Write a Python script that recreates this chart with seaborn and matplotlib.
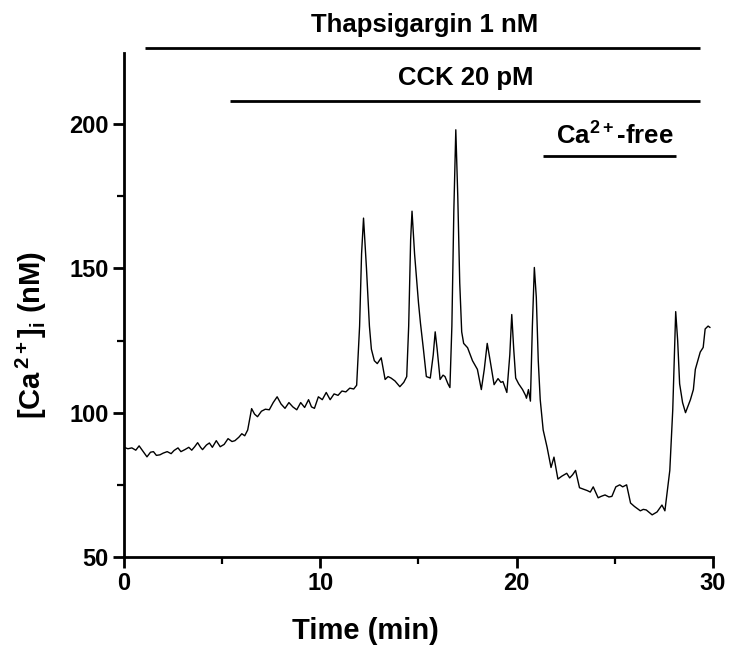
import numpy as np
import pandas as pd
import matplotlib
matplotlib.use("Agg")
import matplotlib.pyplot as plt
import seaborn as sns

# ---- data ----
time_min = [0.0, 0.2, 0.4, 0.6, 0.77, 0.95, 1.17, 1.35, 1.5, 1.65, 1.83, 2.0, 2.2, 2.4, 2.55,
            2.75, 2.9, 3.1, 3.3, 3.45, 3.6, 3.75, 3.9, 4.0, 4.2, 4.35, 4.5, 4.7, 4.9, 5.1, 5.3,
            5.5, 5.65, 5.85, 6.0, 6.15, 6.3, 6.5, 6.65, 6.8, 7.0, 7.2, 7.4, 7.6, 7.8, 8.0, 8.2,
            8.4, 8.6, 8.8, 9.0, 9.2, 9.4, 9.55, 9.7, 9.9, 10.1, 10.3, 10.5, 10.7, 10.9, 11.1,
            11.3, 11.5, 11.7, 11.85, 12.0, 12.1, 12.2, 12.35, 12.5, 12.6, 12.75, 12.9, 13.1,
            13.3, 13.45, 13.6, 13.8, 14.05, 14.25, 14.4, 14.5, 14.6, 14.67, 14.8, 15.0, 15.1,
            15.25, 15.4, 15.6, 15.75, 15.85, 15.95, 16.1, 16.25, 16.35, 16.5, 16.6, 16.7, 16.8,
            16.9, 17.0, 17.1, 17.2, 17.3, 17.5, 17.75, 18.0, 18.2, 18.35, 18.5, 18.65, 18.85,
            19.05, 19.2, 19.3, 19.5, 19.65, 19.75, 19.85, 19.95, 20.1, 20.3, 20.45, 20.5, 20.6,
            20.7, 20.8, 20.9, 21.0, 21.1, 21.2, 21.35, 21.55, 21.75, 21.9, 22.1, 22.3, 22.55,
            22.7, 22.85, 23.0, 23.2, 23.4, 23.6, 23.75, 23.9, 24.15, 24.3, 24.5, 24.7, 24.85,
            25.05, 25.25, 25.4, 25.6, 25.8, 26.0, 26.3, 26.45, 26.6, 26.9, 27.15, 27.4, 27.55,
            27.8, 27.95, 28.1, 28.2, 28.3, 28.45, 28.6, 28.85, 29.0, 29.1, 29.35, 29.5, 29.6,
            29.75, 29.85]
ca_nM = [88.0, 87.5, 87.8, 87.0, 88.5, 86.8, 84.7, 86.3, 86.5, 85.2, 85.4, 86.0, 86.5, 85.8, 86.9,
         87.8, 86.5, 87.2, 88.0, 87.0, 88.2, 89.6, 88.0, 87.2, 88.8, 89.5, 88.0, 90.3, 88.2, 89.0, 91.0,
         90.0, 90.3, 91.5, 92.7, 92.0, 94.0, 101.4, 99.5, 98.6, 100.5, 101.2, 101.0, 103.5, 105.5, 103.0, 101.5,
         103.5, 102.0, 101.0, 103.5, 101.8, 104.5, 102.0, 101.5, 105.5, 104.5, 107.0, 104.5, 106.5, 106.0, 107.5,
         107.2, 108.5, 108.2, 109.5, 130.0, 155.0, 167.4, 150.0, 130.0, 122.0, 118.0, 117.0, 119.0,
         111.5, 112.5, 112.0, 111.0, 109.0, 110.5, 112.5, 130.0, 160.0, 169.8, 155.0, 138.0, 131.0,
         122.0, 112.5, 112.0, 120.0, 128.0, 122.0, 111.5, 113.0, 112.5, 110.0, 108.7, 130.0, 170.0,
         198.0, 175.0, 145.0, 128.0, 124.0, 122.5, 118.0, 115.0, 108.0, 115.0, 124.0, 118.0, 109.7,
         111.8, 110.5, 110.8, 107.0, 120.0, 134.0, 122.0, 112.0, 110.0, 108.0, 106.0, 105.0, 108.0,
         104.0, 130.0, 150.3, 140.0, 118.0, 104.5, 94.0, 88.0, 81.0, 84.6, 77.0, 78.0, 79.0,
         77.4, 78.5, 80.0, 74.0, 73.5, 73.0, 72.5, 74.3, 70.5, 71.0, 71.5, 70.8, 71.0,
         74.3, 75.0, 74.3, 75.0, 68.7, 67.5, 66.0, 66.5, 66.3, 64.6, 65.6, 68.0, 66.0,
         80.0, 101.0, 135.0, 125.0, 110.0, 103.5, 100.0, 104.5, 108.0, 115.0, 121.0, 122.6, 129.0,
         130.0, 129.5]

treatments = ["Thapsigargin 1 nM", "CCK 20 pM", "Ca$^{2+}$-free"]
treat_start = [1.07, 5.4, 21.35]
treat_end = [29.34, 29.34, 28.1]

x_ticks = [0, 10, 20, 30]
y_ticks = [50, 100, 150, 200]

# ---- style ----
sns.set_theme(style="ticks")
plt.rcParams["font.family"] = ["Liberation Sans", "DejaVu Sans"]
plt.rcParams["font.weight"] = "bold"
plt.rcParams["mathtext.fontset"] = "custom"
plt.rcParams["mathtext.rm"] = "Liberation Sans:bold"
plt.rcParams["mathtext.bf"] = "Liberation Sans:bold"
plt.rcParams["mathtext.it"] = "Liberation Sans:bold"
plt.rcParams["mathtext.default"] = "bf"
for key in ["text.color", "axes.labelcolor", "xtick.color", "ytick.color", "axes.edgecolor"]:
    plt.rcParams[key] = "black"

fig = plt.figure(figsize=(7.32, 6.45), dpi=100)
ax = fig.add_axes([124 / 732, 1 - 557 / 645, (713 - 124) / 732, (557 - 53) / 645])

df = pd.DataFrame({"Time (min)": time_min, "Ca": ca_nM})
sns.lineplot(data=df, x="Time (min)", y="Ca", ax=ax, color="black", linewidth=1.0,
             estimator=None, sort=False)

ax.set_xlim(0, 30)
ax.set_ylim(50, 224.6)
ax.set_xticks(x_ticks)
ax.set_yticks(y_ticks)
ax.set_xticks([5, 15, 25], minor=True)
ax.set_yticks([75, 125, 175], minor=True)
sns.despine(ax=ax)
for s in ["left", "bottom"]:
    ax.spines[s].set_linewidth(2.0)
    ax.spines[s].set_color("black")
ax.tick_params(which="major", length=8, width=2.0, labelsize=17, pad=3, color="black",
               labelcolor="black")
ax.tick_params(which="minor", length=5, width=1.6, color="black")
for lab in ax.get_xticklabels() + ax.get_yticklabels():
    lab.set_fontweight("bold")

ax.set_xlabel("Time (min)", fontsize=21, fontweight="bold", color="black")
ax.set_ylabel(r"[Ca$^{\,2+}$]$_{i}$ (nM)", fontsize=21, fontweight="bold", color="black")
ax.xaxis.set_label_coords(0.41, -0.12)
ax.yaxis.set_label_coords(-0.128, 0.44)

# treatment bars and labels
bar_levels = [226.4, 208.0, 188.9]
text_levels = [234.2, 216.0, 195.8]
text_centers = [15.3, 17.4, 25.0]
for name, s, e, lv, tl, tc in zip(treatments, treat_start, treat_end, bar_levels, text_levels, text_centers):
    ax.plot([s, e], [lv, lv], color="black", linewidth=2.0, clip_on=False, solid_capstyle="butt")
    ax.text(tc, tl, name, ha="center", va="center", fontsize=18.5, fontweight="bold",
            color="black", clip_on=False)

fig.savefig("out.png", dpi=100)
